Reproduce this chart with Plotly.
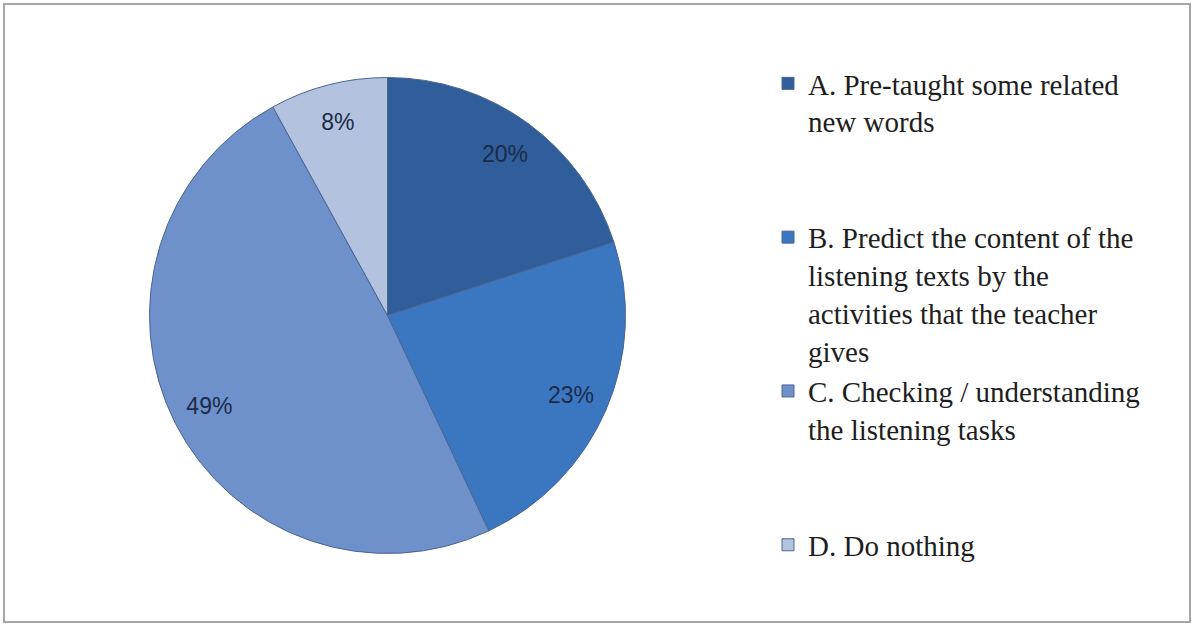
import plotly.graph_objects as go

labels = [
    "A. Pre-taught some related<br>new words<br> <br> ",
    "B. Predict the content of the<br>listening texts by the<br>activities that the teacher<br>gives",
    "C. Checking / understanding<br>the listening tasks<br> <br> ",
    "D. Do nothing",
]
values = [20, 23, 49, 8]
colors = ["#2F5E9A", "#3B77C1", "#6E91CB", "#B3C2DE"]

W, H = 1192, 624
cx, cy, r = 387.5, 315.5, 238
dom = dict(x=[(cx - r) / W, (cx + r) / W], y=[1 - (cy + r) / H, 1 - (cy - r) / H])

fig = go.Figure()
# filled pie (slices + legend)
fig.add_trace(go.Pie(
    labels=labels, values=values, sort=False, direction="clockwise", rotation=0,
    marker=dict(colors=colors, line=dict(color="#4A6590", width=1)),
    textinfo="none", domain=dom, hoverinfo="label+percent",
))
# transparent ring carrying the percentage labels near the rim
fig.add_trace(go.Pie(
    labels=labels, values=values, sort=False, direction="clockwise", rotation=0,
    hole=0.68, showlegend=False,
    marker=dict(colors=["rgba(0,0,0,0)"] * 4, line=dict(width=0)),
    textinfo="percent", texttemplate="%{percent:.0%}",
    textposition="inside", insidetextorientation="horizontal",
    textfont=dict(family="Liberation Sans", size=23, color="#1C2B4A"),
    domain=dom, hoverinfo="skip",
))

fig.update_layout(
    width=W, height=H,
    margin=dict(l=0, r=0, t=0, b=0),
    paper_bgcolor="white",
    plot_bgcolor="white",
    showlegend=True,
    legend=dict(
        x=768 / W, y=1 - 58 / H, xanchor="left", yanchor="top",
        font=dict(family="Liberation Serif", size=29, color="#1E1E1E"),
        valign="top", traceorder="normal", itemclick=False,
    ),
    shapes=[dict(type="rect", xref="paper", yref="paper",
                 x0=4 / W, x1=1190 / W, y0=1 - 622 / H, y1=1 - 4 / H,
                 line=dict(color="#A6A6A6", width=2), fillcolor="rgba(0,0,0,0)")],
)

fig.write_html("out.html", config={"displayModeBar": False},
               post_script="document.body.style.margin='0';")
